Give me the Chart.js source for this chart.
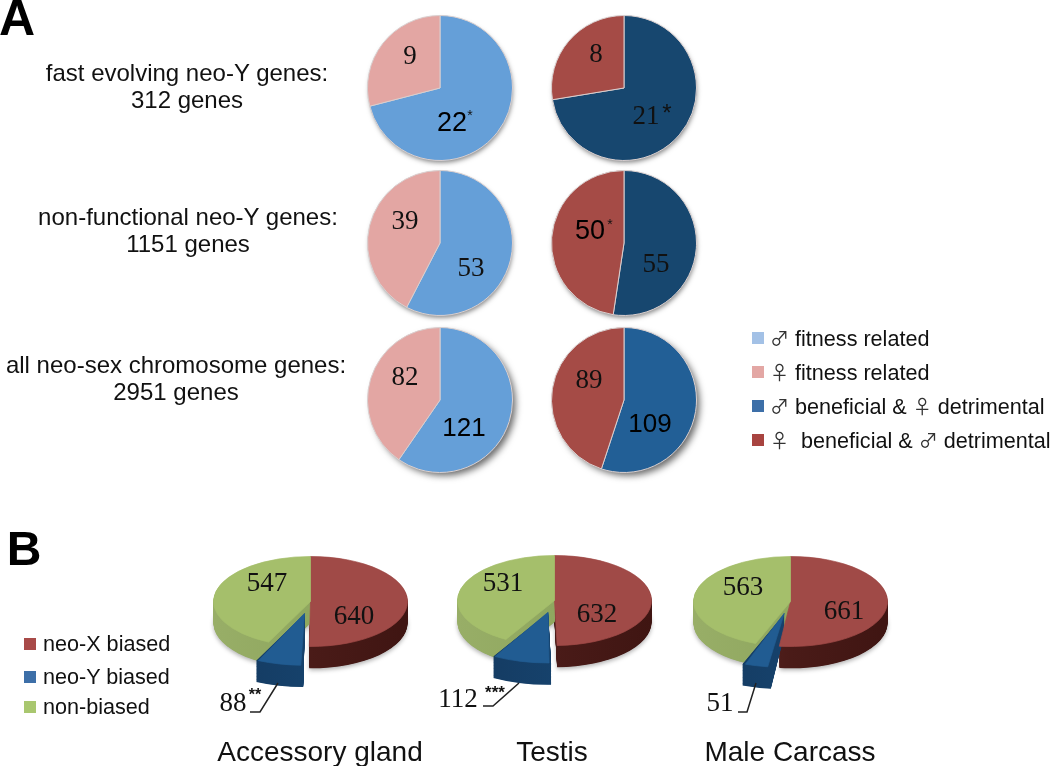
<!DOCTYPE html>
<html>
<head>
<meta charset="utf-8">
<title>neo-Y genes</title>
<script src="https://cdn.jsdelivr.net/npm/chart.js@4"></script>
<style>
html,body{margin:0;padding:0;background:#fff;}
#page{position:relative;width:1050px;height:766px;overflow:hidden;font-family:"Liberation Sans",Arial,sans-serif;color:#111;}
#page canvas{position:absolute;}
.t{position:absolute;white-space:pre;transform:translate(-50%,-50%);line-height:1;}
.l{position:absolute;white-space:pre;transform:translateY(-50%);line-height:22px;height:22px;font-size:21.6px;}
.g{font-family:"Noto Sans CJK SC";font-size:19px;color:#333;line-height:22px;}
.box{position:absolute;width:12px;height:12px;}
svg{position:absolute;left:0;top:0;}
</style>
</head>
<body>
<div id="page"></div>
<script>
// panel A: male / female counts for each gene set
const pieALabels=['male','female'];
const fastFitness=[22,9];
const fastAntagonistic=[21,8];
const nonfuncFitness=[53,39];
const nonfuncAntagonistic=[55,50];
const allFitness=[121,82];
const allAntagonistic=[109,89];

// panel B: neo-X biased, neo-Y biased, non-biased
const pieBLabels=['neo-X biased','neo-Y biased','non-biased'];
const accessoryGland=[640,88,547];
const testis=[632,112,531];
const maleCarcass=[661,51,563];

const rowTitles=[
['fast evolving neo-Y genes:','312 genes'],
['non-functional neo-Y genes:','1151 genes'],
['all neo-sex chromosome genes:','2951 genes']
];
const legendA=['♂ fitness related','♀ fitness related','♂ beneficial & ♀ detrimental','♀  beneficial & ♂ detrimental'];
const legendB=['neo-X biased','neo-Y biased','non-biased'];
const tissueNames=['Accessory gland','Testis','Male Carcass'];

const page=document.getElementById('page');

function addText(x,y,txt,size,font,extra){
let d=document.createElement('div');
d.className='t';
d.textContent=txt;
d.style.left=x+'px';
d.style.top=y+'px';
d.style.fontSize=size+'px';
if(font)d.style.fontFamily=font;
if(extra)d.style.cssText+=extra;
page.appendChild(d);
}

const SERIF='"Liberation Serif",serif';

function makeCanvas(cx,cy,size){
let c=document.createElement('canvas');
c.width=size;
c.height=size;
c.style.left=(cx-size/2)+'px';
c.style.top=(cy-size/2)+'px';
c.style.width=size+'px';
c.style.height=size+'px';
page.appendChild(c);
return c;
}

// soft shadow under the flat pies
const flatShadow={
id:'flatShadow',
beforeDatasetsDraw(chart,args,opts){
let arc=chart.getDatasetMeta(0).data[0];
let ctx=chart.ctx;
ctx.save();
ctx.shadowColor=opts.color;
ctx.shadowBlur=opts.blur;
ctx.shadowOffsetX=opts.offX;
ctx.shadowOffsetY=opts.offY;
ctx.fillStyle='#999';
ctx.beginPath();
ctx.arc(arc.x,arc.y,arc.outerRadius-1,0,Math.PI*2);
ctx.fill();
ctx.restore();
}
};

function flatPie(cx,cy,values,colors,shadow){
new Chart(makeCanvas(cx,cy,184),{
type:'pie',
data:{
labels:pieALabels,
datasets:[{
data:values,
backgroundColor:colors,
borderColor:'#d9cfcf',
borderWidth:1,
hoverOffset:0
}]
},
options:{
responsive:false,
animation:false,
events:[],
layout:{padding:19},
plugins:{legend:{display:false},tooltip:{enabled:false},flatShadow:shadow}
},
plugins:[flatShadow]
});
}

const LIGHTBLUE='#659fd8',PINK='#e3a6a3',NAVY='#17476f',BROWN='#a54b46',MIDBLUE='#225f96';
const softShadow={color:'rgba(0,0,0,0.5)',blur:5,offX:1,offY:3};
const hardShadow={color:'rgba(0,0,0,0.6)',blur:7,offX:4,offY:4};

const colL=439.5,colR=624;
const rowY=[88,243,400];
flatPie(colL,rowY[0],fastFitness,[LIGHTBLUE,PINK],softShadow);
flatPie(colR,rowY[0],fastAntagonistic,[NAVY,BROWN],softShadow);
flatPie(colL,rowY[1],nonfuncFitness,[LIGHTBLUE,PINK],softShadow);
flatPie(colR,rowY[1],nonfuncAntagonistic,[NAVY,BROWN],softShadow);
flatPie(colL,rowY[2],allFitness,[LIGHTBLUE,PINK],hardShadow);
flatPie(colR,rowY[2],allAntagonistic,[MIDBLUE,BROWN],hardShadow);

// tilted pies: squash the drawing and stack darker copies under it
const TILT=0.464,DEPTH=47;
const PULL=104; // chart.js moves a slice by offset/4 and widens it a bit

const tilted={
id:'tilted',
beforeDatasetsDraw(chart,args,opts){
let ctx=chart.ctx;
let arcs=chart.getDatasetMeta(0).data;
let cy=arcs[0].y;
ctx.save();
ctx.translate(0,cy);
ctx.scale(1,TILT);
ctx.translate(0,-cy);
// draw from the bottom layer up, red and green first so the pulled slice sits on top
[0,2,1].forEach(i=>{
let a=arcs[i];
let off=(a.options.offset||0)/4;
let mid=(a.startAngle+a.endAngle)/2;
let x=a.x+Math.cos(mid)*off;
let y=a.y+Math.sin(mid)*off;
let fix=1-Math.sin(Math.min(Math.PI,a.circumference));
let r=a.outerRadius+off*fix;
let g=ctx.createLinearGradient(a.x-a.outerRadius,0,a.x+a.outerRadius,0);
opts.sides[i].forEach((col,k,all)=>g.addColorStop(k/(all.length-1),col));
ctx.fillStyle=g;
if(i!==1){
ctx.shadowColor='rgba(0,0,0,0.3)';
ctx.shadowBlur=4;
ctx.shadowOffsetY=2;
}
for(let d=DEPTH;d>0;d--){
if(d<DEPTH)ctx.shadowColor='transparent';
ctx.beginPath();
ctx.moveTo(x,y+d);
ctx.arc(x,y+d,r,a.startAngle,a.endAngle);
ctx.closePath();
ctx.fill();
}
ctx.shadowColor='transparent';
});
},
afterDatasetsDraw(chart){
chart.ctx.restore();
}
};

function tiltedPie(cx,cy,values){
new Chart(makeCanvas(cx,cy,299),{
type:'pie',
data:{
labels:pieBLabels,
datasets:[{
data:values,
backgroundColor:['#a04a47','#215c92','#a5bf6b'],
borderColor:['#a04a47','#215c92','#a5bf6b'],
borderWidth:1,
offset:[0,PULL,0],
hoverOffset:0,
clip:false
}]
},
options:{
responsive:false,
animation:false,
events:[],
plugins:{
legend:{display:false},
tooltip:{enabled:false},
tilted:{sides:[
['#5f2a27','#4a1b18','#3f1512'],
['#14395f','#16426c','#123a60'],
['#98ae67','#8fa75f','#a0b76c']
]}
}
},
plugins:[tilted]
});
}

tiltedPie(310,601,accessoryGland);
tiltedPie(554,600,testis);
tiltedPie(790,601,maleCarcass);

// leader lines of the neo-Y slices
page.insertAdjacentHTML('beforeend','<svg width="1050" height="766" fill="none" stroke="#222" stroke-width="1.5">'+
'<polyline points="250,712 260,712 278,683"/>'+
'<polyline points="483,706 493,706 519,683"/>'+
'<polyline points="738,712 747,712 756,683"/></svg>');

// panel letters
addText(17,18,'A',50,null,'font-weight:bold;color:#000;');
addText(24,549,'B',48,null,'font-weight:bold;color:#000;');

// row titles
const titleX=[187,188,176];
const titleY=[[73,100],[217,244],[365,392]];
rowTitles.forEach((r,i)=>{
addText(titleX[i],titleY[i][0],r[0],24);
addText(titleX[i],titleY[i][1],r[1],24);
});

// numbers on the pies
function num(x,y,v,size,sans){
addText(x,y,String(v),size,sans?null:SERIF,sans?'color:#000;':'color:#111;');
}
function star(x,y,s,size,sans,bold){
addText(x,y,s,size,sans?null:SERIF,'color:#111;'+(bold?'font-weight:bold;':''));
}
num(410,55,fastFitness[1],27);
num(452,122,fastFitness[0],27,true);
star(470,115,'*',14,true);
num(596,53,fastAntagonistic[1],27);
num(646,115,fastAntagonistic[0],27);
star(667,113,'*',24,true);

num(405,220,nonfuncFitness[1],27);
num(471,267,nonfuncFitness[0],27);
num(590,230,nonfuncAntagonistic[1],27,true);
star(610,224,'*',14,true);
num(656,263,nonfuncAntagonistic[0],27);

num(405,376,allFitness[1],27);
num(464,427,allFitness[0],26,true);
num(589,379,allAntagonistic[1],27);
num(650,423,allAntagonistic[0],26,true);

num(267,582,accessoryGland[2],27);
num(354,615,accessoryGland[0],27);
num(233,702,accessoryGland[1],27);
star(255,695,'**',16,true,true);

num(503,582,testis[2],27);
num(597,613,testis[0],27);
num(458,698,testis[1],27);
star(495,692,'***',17,true,true);

num(743,586,maleCarcass[2],27);
num(844,610,maleCarcass[0],27);
num(720,702,maleCarcass[1],27);

// legends
function legendRow(x,y,boxX,boxColor,txt){
let b=document.createElement('div');
b.className='box';
b.style.left=boxX+'px';
b.style.top=(y-6)+'px';
b.style.background=boxColor;
page.appendChild(b);
let d=document.createElement('div');
d.className='l';
d.style.left=x+'px';
d.style.top=y+'px';
txt.split(/([♂♀])/).forEach(part=>{
let s=document.createElement('span');
s.textContent=part;
if(part==='♂'||part==='♀')s.className='g';
d.appendChild(s);
});
page.appendChild(d);
}
const legendAY=[338,372,406,440];
const legendAColors=['#a3c1e6','#e3a7a4','#3d6fa8','#a84440'];
legendA.forEach((txt,i)=>legendRow(770,legendAY[i],752,legendAColors[i],txt));

const legendBY=[644,677,707];
const legendBColors=['#a84a48','#3d6fa8','#a9c76f'];
legendB.forEach((txt,i)=>legendRow(43,legendBY[i],24,legendBColors[i],txt));

// tissue names
const tissueX=[320,552,790];
tissueNames.forEach((n,i)=>addText(tissueX[i],752,n,28));
</script>
</body>
</html>
